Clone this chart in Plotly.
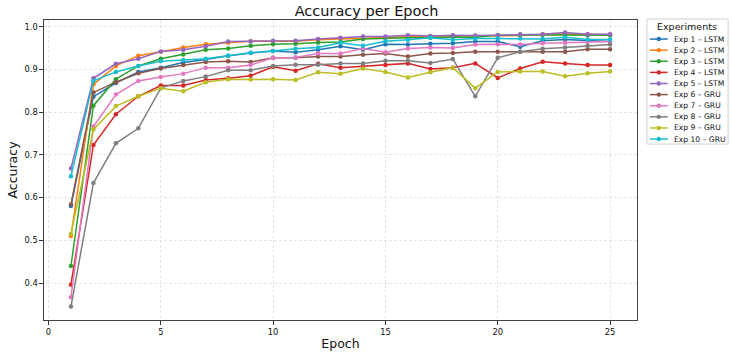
import plotly.graph_objects as go

epochs = list(range(1, 26))

names = ["Exp 1 – LSTM", "Exp 2 – LSTM", "Exp 3 – LSTM", "Exp 4 – LSTM", "Exp 5 – LSTM",
         "Exp 6 – GRU", "Exp 7 – GRU", "Exp 8 – GRU", "Exp 9 – GRU", "Exp 10 – GRU"]

colors = ["#1f77b4", "#ff7f0e", "#2ca02c", "#d62728", "#9467bd",
          "#8c564b", "#e377c2", "#7f7f7f", "#bcbd22", "#17becf"]

exp1 = [0.580, 0.836, 0.868, 0.894, 0.904, 0.916, 0.923, 0.932, 0.938, 0.943, 0.940, 0.946, 0.954,
        0.946, 0.959, 0.958, 0.960, 0.961, 0.965, 0.965, 0.953, 0.967, 0.970, 0.967, 0.965]
exp2 = [0.510, 0.865, 0.908, 0.932, 0.941, 0.951, 0.959, 0.962, 0.966, 0.966, 0.966, 0.969, 0.971,
        0.973, 0.975, 0.977, 0.978, 0.978, 0.978, 0.978, 0.979, 0.982, 0.983, 0.982, 0.981]
exp3 = [0.440, 0.815, 0.877, 0.908, 0.925, 0.935, 0.946, 0.949, 0.955, 0.959, 0.960, 0.963, 0.964,
        0.971, 0.973, 0.974, 0.974, 0.976, 0.975, 0.980, 0.981, 0.981, 0.981, 0.980, 0.980]
exp4 = [0.396, 0.723, 0.795, 0.837, 0.862, 0.862, 0.875, 0.879, 0.885, 0.906, 0.897, 0.913, 0.904,
        0.907, 0.910, 0.914, 0.901, 0.904, 0.914, 0.880, 0.902, 0.918, 0.914, 0.910, 0.910]
exp5 = [0.668, 0.879, 0.913, 0.925, 0.942, 0.946, 0.954, 0.965, 0.966, 0.967, 0.967, 0.971, 0.974,
        0.977, 0.977, 0.980, 0.978, 0.980, 0.979, 0.980, 0.982, 0.982, 0.986, 0.982, 0.982]
exp6 = [0.584, 0.846, 0.870, 0.891, 0.902, 0.910, 0.917, 0.919, 0.917, 0.927, 0.927, 0.930, 0.930,
        0.934, 0.937, 0.930, 0.937, 0.938, 0.941, 0.941, 0.941, 0.941, 0.941, 0.947, 0.947]
exp7 = [0.367, 0.766, 0.841, 0.873, 0.882, 0.890, 0.904, 0.904, 0.910, 0.927, 0.928, 0.937, 0.937,
        0.949, 0.940, 0.949, 0.951, 0.950, 0.958, 0.959, 0.958, 0.961, 0.962, 0.964, 0.965]
exp8 = [0.345, 0.634, 0.727, 0.762, 0.856, 0.873, 0.883, 0.898, 0.898, 0.908, 0.911, 0.911, 0.914,
        0.914, 0.920, 0.920, 0.915, 0.924, 0.837, 0.927, 0.941, 0.948, 0.951, 0.955, 0.958]
exp9 = [0.515, 0.759, 0.814, 0.837, 0.856, 0.849, 0.870, 0.877, 0.876, 0.877, 0.875, 0.893, 0.890,
        0.902, 0.894, 0.881, 0.893, 0.904, 0.856, 0.894, 0.895, 0.895, 0.884, 0.891, 0.895]
exp10 = [0.650, 0.873, 0.894, 0.908, 0.919, 0.922, 0.925, 0.932, 0.939, 0.943, 0.948, 0.951, 0.962,
         0.955, 0.966, 0.969, 0.974, 0.969, 0.972, 0.972, 0.972, 0.971, 0.975, 0.970, 0.970]

series = [exp1, exp2, exp3, exp4, exp5, exp6, exp7, exp8, exp9, exp10]

x_ticks = [0, 5, 10, 15, 20, 25]
y_ticks = [0.4, 0.5, 0.6, 0.7, 0.8, 0.9, 1.0]

FONT = "DejaVu Sans"
W, H = 732, 360
L, R, T, B = 38, 95, 20, 33
PW, PH = W - L - R, H - T - B


def px(xp):
    return (xp - L) / PW


def py(yp):
    return (H - B - yp) / PH


fig = go.Figure()
for name, col, ys in zip(names, colors, series):
    fig.add_trace(go.Scatter(
        x=epochs, y=ys, name=name, mode="lines+markers",
        line=dict(color=col, width=1.5),
        marker=dict(color=col, size=4.5, symbol="circle"),
        showlegend=False,
    ))

shapes = []
annotations = []

# legend box
shapes.append(dict(type="rect", xref="paper", yref="paper",
                   x0=px(647), x1=px(729), y0=py(147), y1=py(19),
                   line=dict(color="#d0d0d0", width=1), fillcolor="rgba(255,255,255,0.85)"))
annotations.append(dict(text="Experiments", xref="paper", yref="paper",
                        x=px(688), y=py(27), xanchor="center", yanchor="middle",
                        showarrow=False, font=dict(family=FONT, size=9.5, color="#111")))
for i, (name, col) in enumerate(zip(names, colors)):
    yrow = 39.5 + i * 11.37
    shapes.append(dict(type="line", xref="paper", yref="paper",
                       x0=px(650), x1=px(668), y0=py(yrow), y1=py(yrow),
                       line=dict(color=col, width=1.5)))
    shapes.append(dict(type="circle", xref="paper", yref="paper",
                       xsizemode="pixel", ysizemode="pixel",
                       xanchor=px(659), yanchor=py(yrow),
                       x0=-2.2, x1=2.2, y0=-2.2, y1=2.2,
                       fillcolor=col, line=dict(width=0)))
    annotations.append(dict(text=name, xref="paper", yref="paper",
                            x=px(672.5), y=py(yrow), xanchor="left", yanchor="middle",
                            showarrow=False, font=dict(family=FONT, size=7.6, color="#111")))

axis_common = dict(
    showline=True, linecolor="#444", linewidth=1.2, mirror=True,
    ticks="outside", ticklen=3.5, tickwidth=0.8, tickcolor="#333",
    showgrid=True, gridcolor="#e4e4e4", gridwidth=0.8, griddash="3px,2px",
    zeroline=False, tickfont=dict(family=FONT, size=8.3, color="#111"),
)

fig.update_layout(
    width=W, height=H,
    margin=dict(l=L, r=R, t=T, b=B),
    paper_bgcolor="white", plot_bgcolor="white",
    font=dict(family=FONT, color="#111"),
    title=dict(text="Accuracy per Epoch", x=px(338), xanchor="center",
               y=1 - 11 / H, yanchor="middle", yref="container",
               font=dict(family=FONT, size=14.5, color="#111")),
    xaxis=dict(range=[-0.2, 26.2], tickvals=x_ticks, ticktext=[str(v) for v in x_ticks],
               title=dict(text="Epoch", font=dict(family=FONT, size=12.5, color="#111"), standoff=3),
               **axis_common),
    yaxis=dict(range=[0.3135, 1.0155], tickvals=y_ticks, ticktext=[f"{v:.1f}" for v in y_ticks],
               title=dict(text="Accuracy", font=dict(family=FONT, size=12.5, color="#111"), standoff=4),
               **axis_common),
    shapes=shapes, annotations=annotations,
)

fig.write_html("out.html")
